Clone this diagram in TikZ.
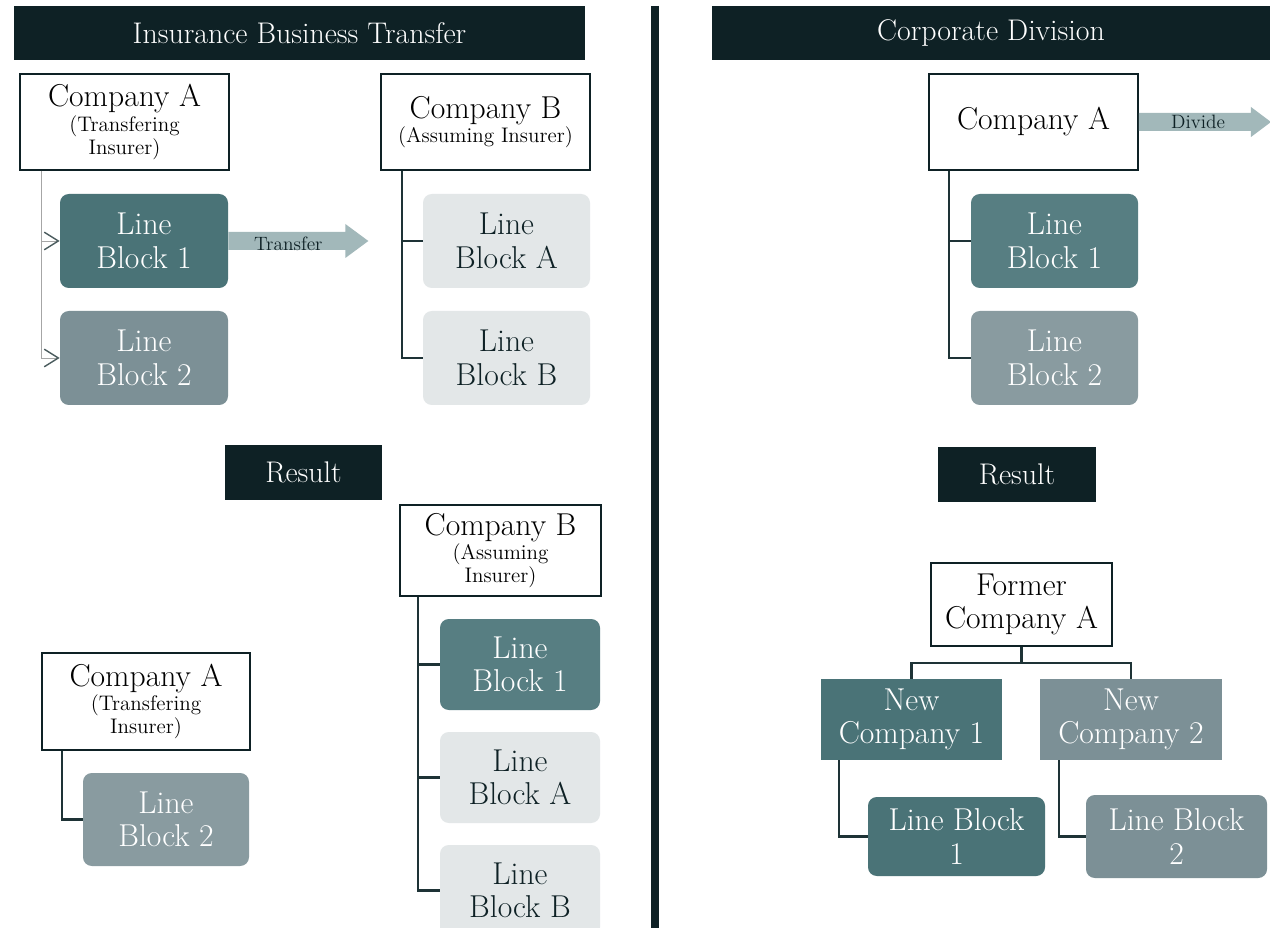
\documentclass[tikz,border=0pt]{standalone}
\usepackage{fontspec}
\usetikzlibrary{arrows.meta,calc,positioning}
\definecolor{hdrc}{HTML}{0E2125}
\definecolor{linec}{HTML}{1E3336}
\definecolor{tealA}{HTML}{4A7377}
\definecolor{tealB}{HTML}{577E82}
\definecolor{greyA}{HTML}{7C9096}
\definecolor{greyB}{HTML}{899BA0}
\definecolor{lightc}{HTML}{E3E7E8}
\definecolor{arrc}{HTML}{A2B8BA}
\newcommand{\subl}{\fontsize{12}{12}\selectfont}

\begin{document}
\begin{tikzpicture}[x=0.02cm,y=-0.02cm]
	\tikzset{sz/.style 2 args={minimum width=#1*0.02cm,minimum height=#2*0.02cm}}
	\tikzset{hdr/.style={fill=hdrc,text=white,inner sep=0pt,font=\fontsize{17}{19}\selectfont}}
	\tikzset{company/.style={draw=hdrc,line width=1.1pt,fill=white,align=center,inner sep=0pt,font=\fontsize{18}{19}\selectfont}}
	\tikzset{block/.style={rounded corners=5pt,align=center,inner sep=0pt,text=white,font=\fontsize{18}{19}\selectfont}}
	\tikzset{tealone/.style={block,fill=tealA},tealtwo/.style={block,fill=tealB}}
	\tikzset{greyone/.style={block,fill=greyA},greytwo/.style={block,fill=greyB}}
	\tikzset{lightone/.style={block,fill=lightc,text=hdrc}}
	\tikzset{link/.style={draw=linec,line width=1.2pt}}
	\tikzset{feed/.style={draw=gray!70,line width=0.5pt,-{Straight Barb[length=8pt,width=10pt,line width=0.8pt]},arrows={[color=linec!80]}}}
	\tikzset{fat/.style={fill=arrc}}
	\tikzset{tag/.style={text=hdrc,inner sep=0pt,font=\fontsize{11}{12}\selectfont}}
	\path[use as bounding box,clip] (0,0) rectangle (1270,928);
	\fill[white] (0,0) rectangle (1270,928);

	\node[hdr,sz={571}{54}] (hL) at (299.5,33) {Insurance Business Transfer};
	\node[hdr,sz={558}{54}] (hR) at (991,33) {Corporate Division};
	\draw[hdrc,line width=4.5pt] (655,6) -- (655,928);

	\node[company,sz={209}{96}] (caT) at (124.5,122) {Company A\\[-5pt]\subl (Transfering\\[-6pt]\subl Insurer)};
	\node[tealone,sz={168}{94}] (lb1T) at (144,241) {Line\\Block 1};
	\node[greyone,sz={168}{94}] (lb2T) at (144,358) {Line\\Block 2};
	\coordinate (tA) at ($(caT.south west)+(22,0)$);
	\draw[feed] (tA) |- (lb1T.west);
	\draw[feed] (tA) |- (lb2T.west);
	\fill[fat] ($(lb1T.east)+(0,-9)$) -- ++(117,0) -- ++(0,-8) -- ++(23,17) -- ++(-23,17) -- ++(0,-8) -- ++(-117,0) -- cycle;
	\node[tag] (trl) at ($(lb1T.east)+(60,3)$) {Transfer};

	\node[company,sz={209}{96}] (cbT) at (485.5,122) {Company B\\[-5pt]\subl (Assuming Insurer)};
	\node[lightone,sz={167}{94}] (lbaT) at (506.5,241) {Line\\Block A};
	\node[lightone,sz={167}{94}] (lbbT) at (506.5,358) {Line\\Block B};
	\coordinate (tB) at ($(cbT.south west)+(22,0)$);
	\draw[link] (tB) |- (lbaT.west);
	\draw[link] (tB) |- (lbbT.west);

	\node[hdr,sz={157}{55}] (resL) at (303.5,472.5) {Result};

	\node[company,sz={201}{91}] (cbR) at (500.5,550.5) {Company B\\[-5pt]\subl (Assuming\\[-6pt]\subl Insurer)};
	\node[tealtwo,sz={160}{91}] (lb1R) at (520,664.5) {Line\\Block 1};
	\node[lightone,sz={160}{91}] (lbaR) at (520,777.5) {Line\\Block A};
	\node[lightone,sz={160}{91}] (lbbR) at (520,890.5) {Line\\Block B};
	\coordinate (rB) at ($(cbR.south west)+(19,0)$);
	\draw[link] (rB) |- (lb1R.west);
	\draw[link] (rB) |- (lbaR.west);
	\draw[link] (rB) |- (lbbR.west);

	\node[company,sz={208}{97}] (caR) at (146,701.5) {Company A\\[-5pt]\subl (Transfering\\[-6pt]\subl Insurer)};
	\node[greytwo,sz={166}{93}] (lb2R) at (166,819.5) {Line\\Block 2};
	\draw[link] ($(caR.south west)+(21,0)$) |- (lb2R.west);

	\node[company,sz={209}{96}] (caD) at (1033.5,122) {Company A};
	\node[tealtwo,sz={167}{94}] (lb1D) at (1054.5,241) {Line\\Block 1};
	\node[greytwo,sz={167}{94}] (lb2D) at (1054.5,358) {Line\\Block 2};
	\coordinate (dA) at ($(caD.south west)+(21,0)$);
	\draw[link] (dA) |- (lb1D.west);
	\draw[link] (dA) |- (lb2D.west);
	\fill[fat] ($(caD.east)+(0,-9)$) -- ++(112,0) -- ++(0,-6) -- ++(20,15) -- ++(-20,15) -- ++(0,-6) -- ++(-112,0) -- cycle;
	\node[tag] (dvl) at ($(caD.east)+(59,0)$) {Divide};

	\node[hdr,sz={158}{55}] (resD) at (1017,474.5) {Result};

	\node[company,sz={181}{83}] (fca) at (1021.5,604.5) {Former\\Company A};
	\node[block,fill=tealA,sz={181}{81},rounded corners=0pt] (nc1) at (911.5,719.5) {New\\Company 1};
	\node[block,fill=greyA,sz={182}{81},rounded corners=0pt] (nc2) at (1131,719.5) {New\\Company 2};
	\draw[link] (fca.south) -- ++(0,16) -| (nc1.north);
	\draw[link] (fca.south) -- ++(0,16) -| (nc2.north);
	\node[tealone,sz={177}{79}] (lbn1) at (956.5,836.5) {Line Block\\1};
	\node[greyone,sz={181}{83}] (lbn2) at (1176.5,836.5) {Line Block\\2};
	\draw[link] ($(nc1.south west)+(18,0)$) |- (lbn1.west);
	\draw[link] ($(nc2.south west)+(19,0)$) |- (lbn2.west);
\end{tikzpicture}
\end{document}
